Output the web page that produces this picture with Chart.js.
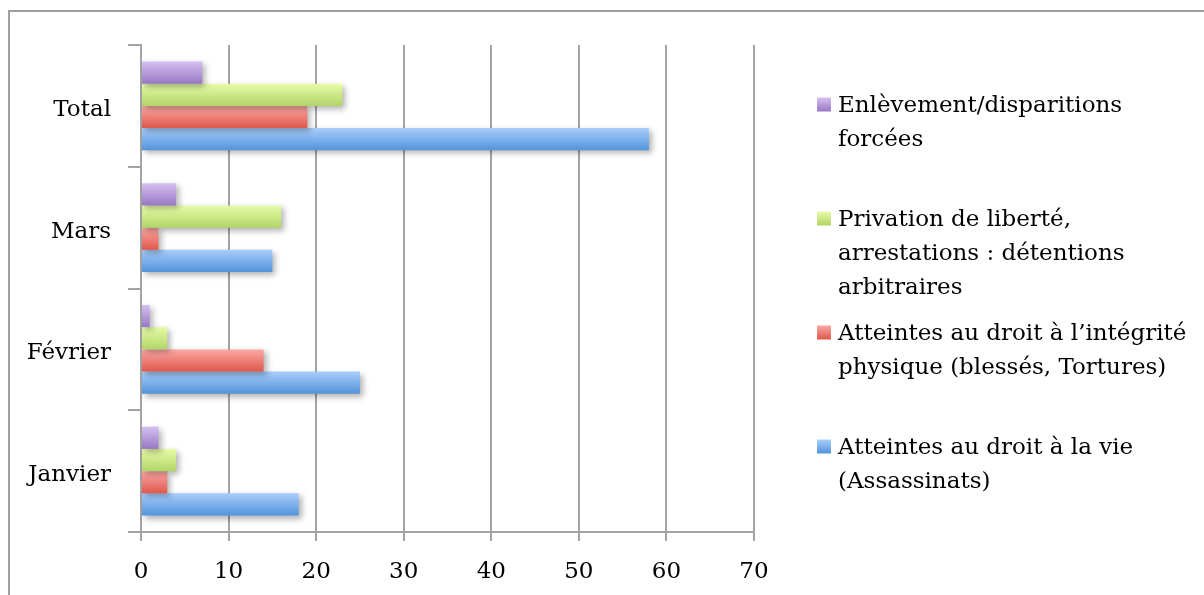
<!DOCTYPE html>
<html>
<head>
<meta charset="utf-8">
<script src="https://cdn.jsdelivr.net/npm/chart.js@4/dist/chart.umd.min.js"></script>
<style>
  html, body { margin: 0; padding: 0; background: #fff; }
  #wrap { position: relative; width: 1204px; height: 595px; }
</style>
</head>
<body>
<div id="wrap"><canvas id="chart" width="1204" height="595"></canvas></div>
<script>
// Categories, top to bottom
const categories = ['Total', 'Mars', 'Février', 'Janvier'];

// Number of violations per category
const enlevements  = [7, 4, 1, 2];
const detentions   = [23, 16, 3, 4];
const integrite    = [19, 2, 14, 3];
const assassinats  = [58, 15, 25, 18];

// Series names, as wrapped in the legend
const nameEnlevements = ['Enlèvement/disparitions', 'forcées'];
const nameDetentions  = ['Privation de liberté,', 'arrestations : détentions', 'arbitraires'];
const nameIntegrite   = ['Atteintes au droit à l’intégrité', 'physique (blessés, Tortures)'];
const nameAssassinats = ['Atteintes au droit à la vie', '(Assassinats)'];

// Value axis
const xMin = 0, xMax = 70, xStep = 10;

const FONT = 'DejaVu Serif';
const GRID = '#a3a3a3';

function makeSeries(lines, values, top, bottom) {
  return {
    label: lines.join(' '),
    lines: lines,
    data: values,
    gradTop: top,
    gradBottom: bottom,
    backgroundColor: (c) => c.dataset.gradBottom,
    borderWidth: 0,
    categoryPercentage: 0.73,
    barPercentage: 1.0
  };
}

// Vertical gradient and soft drop shadow on every bar
const barStyle = {
  id: 'barStyle',
  beforeDatasetDraw(chart, args) {
    const ctx = chart.ctx;
    const ds = chart.data.datasets[args.index];
    args.meta.data.forEach((el) => {
      const top = el.y - el.height / 2;
      const bottom = el.y + el.height / 2;
      const g = ctx.createLinearGradient(0, top, 0, bottom);
      g.addColorStop(0, ds.gradTop);
      g.addColorStop(1, ds.gradBottom);
      el.options.backgroundColor = g;
    });
    ctx.save();
    ctx.shadowColor = 'rgba(0,0,0,0.3)';
    ctx.shadowBlur = 6;
    ctx.shadowOffsetX = 3;
    ctx.shadowOffsetY = 3;
  },
  afterDatasetDraw(chart) {
    chart.ctx.restore();
  }
};

// Frame around the chart
const frame = {
  id: 'frame',
  beforeDraw(chart) {
    const ctx = chart.ctx;
    ctx.save();
    ctx.strokeStyle = '#a0a0a0';
    ctx.lineWidth = 2;
    ctx.beginPath();
    ctx.moveTo(9, chart.height + 5);
    ctx.lineTo(9, 11);
    ctx.lineTo(chart.width + 5, 11);
    ctx.stroke();
    ctx.restore();
  }
};

// Legend on the right with wrapped names
const sideLegend = {
  id: 'sideLegend',
  afterDraw(chart, args, opts) {
    const ctx = chart.ctx;
    ctx.save();
    ctx.font = opts.fontSize + 'px "' + FONT + '"';
    ctx.textBaseline = 'middle';
    chart.data.datasets.forEach((ds, i) => {
      const cy = opts.top + i * opts.spacing;
      const s = opts.box;
      const g = ctx.createLinearGradient(0, cy - s / 2, 0, cy + s / 2);
      g.addColorStop(0, ds.gradTop);
      g.addColorStop(1, ds.gradBottom);
      ctx.fillStyle = g;
      ctx.fillRect(opts.x, cy - s / 2, s, s);
      ctx.fillStyle = '#000';
      ds.lines.forEach((line, j) => {
        ctx.fillText(line, opts.x + s + 7, cy + opts.textShift + j * opts.lineHeight);
      });
    });
    ctx.restore();
  }
};

new Chart(document.getElementById('chart'), {
  type: 'bar',
  data: {
    labels: categories,
    datasets: [
      makeSeries(nameEnlevements, enlevements, '#d5c0f2', '#9878c2'),
      makeSeries(nameDetentions, detentions, '#e7fca8', '#b1d568'),
      makeSeries(nameIntegrite, integrite, '#fca8a4', '#de584c'),
      makeSeries(nameAssassinats, assassinats, '#a8cdfb', '#5294db')
    ]
  },
  options: {
    indexAxis: 'y',
    responsive: false,
    animation: false,
    devicePixelRatio: 1,
    layout: { padding: { top: 45, right: 450, left: 0, bottom: 0 } },
    plugins: {
      legend: { display: false },
      tooltip: { enabled: false },
      sideLegend: { x: 817, top: 104.5, spacing: 114, lineHeight: 34, textShift: 2, box: 14, fontSize: 23 }
    },
    scales: {
      x: {
        type: 'linear',
        min: xMin,
        max: xMax,
        afterFit: (s) => { s.height = 63; },
        ticks: {
          stepSize: xStep,
          color: '#000',
          padding: 17,
          font: { family: FONT, size: 23 }
        },
        grid: { color: GRID, lineWidth: 2, tickLength: 9, drawOnChartArea: true },
        border: { display: true, color: GRID, width: 2 }
      },
      y: {
        type: 'category',
        offset: true,
        afterFit: (s) => { s.width = 141; },
        ticks: {
          color: '#000',
          padding: 17,
          labelOffset: 4,
          font: { family: FONT, size: 23 }
        },
        grid: { offset: true, color: GRID, lineWidth: 2, tickLength: 13, drawOnChartArea: false },
        border: { display: true, color: GRID, width: 2 }
      }
    }
  },
  plugins: [frame, barStyle, sideLegend]
});
</script>
</body>
</html>
